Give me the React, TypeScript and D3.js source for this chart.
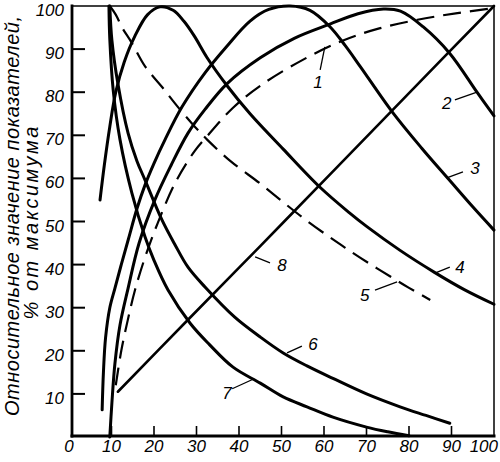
import React, { useEffect, useRef } from "react";
import * as d3 from "d3";

type Pt = [number, number];

// curves (x, % of max)
const curve1: Pt[] = [
  [11, 12], [12.3, 20], [13.8, 27], [15.5, 34], [18, 42], [20.9, 49.7], [25, 59],
  [29.6, 66.4], [32.5, 69.8], [38.6, 76.4], [45, 81.5], [55, 87.5], [64.5, 92],
  [73, 94.8], [82, 96.8], [91, 98.3], [100, 99.5],
];
const curve2: Pt[] = [
  [9.6, 0], [10.1, 8], [10.8, 17], [12, 26], [13.9, 34.5], [16.5, 45], [20.2, 55],
  [24, 63], [28, 70.5], [32, 76], [37.2, 82], [45, 88], [53, 92.5], [61.4, 95.8],
  [68, 98.2], [74, 99.3], [78, 98.8], [83.3, 95.2], [89.6, 89], [96, 80], [100, 74.5],
];
const curve3: Pt[] = [
  [7.8, 6.3], [8.1, 15], [8.6, 23], [9.6, 30], [10.8, 34.5], [12.3, 40], [14, 46],
  [16, 53], [17.9, 58.5], [20, 63.5], [22.6, 69], [26.6, 76.6], [32, 84.5], [37, 90.5],
  [42.6, 96.5], [47, 99.2], [52, 100], [56.7, 99], [61.4, 95.2], [65, 90.8], [68.5, 86],
  [76, 75.5], [83, 67], [89.6, 59.5], [95, 53.4], [100, 48],
];
const curve4: Pt[] = [
  [7.3, 55], [8.3, 63], [9.6, 72], [11, 80], [13, 87], [15.5, 93], [18.5, 98],
  [21.4, 99.8], [24.5, 99], [27, 96.5], [29.5, 93], [32.5, 88], [37.2, 81.5],
  [42.6, 75], [50.4, 66.8], [59, 58], [66, 52], [70.1, 48.8], [77.9, 43.3],
  [86, 38.2], [93, 34.2], [100, 30.8],
];
const curve5: Pt[] = [
  [9.6, 100], [11, 98], [12.5, 95], [14.8, 91.4], [17.9, 86], [21.9, 81.2],
  [25.6, 76.6], [29.6, 72], [32.5, 69], [38, 64], [45, 58.8], [50, 54.8], [55, 50.9],
  [60.7, 46.8], [65, 43.9], [70.1, 40.6], [76, 37], [80, 34.6], [85, 31.8],
];
const curve6: Pt[] = [
  [9.6, 100], [10.1, 92], [11.5, 82], [13.9, 70.5], [16, 64], [17.9, 59.6],
  [21.9, 50.3], [25, 44.5], [28, 39.4], [32, 34.8], [39, 27.8], [45, 23.2],
  [50.4, 19.5], [56, 16.5], [62.1, 13.6], [70, 10], [77.9, 7], [84, 5], [89.6, 3.2],
];
const curve7: Pt[] = [
  [9.4, 100], [9.6, 92.3], [10.4, 80.5], [12, 69], [14.8, 56.6], [17.9, 46.4],
  [20, 41], [23.3, 34.1], [28.5, 26.4], [33, 21.5], [38.6, 16.2], [45, 12.5],
  [50.4, 9.3], [56, 7], [62.1, 4.6], [70, 2.3], [75, 1.2], [80, 0.3],
];
const curve8: Pt[] = [
  [11.5, 10.5], [28, 27.2], [45, 44.3], [62, 61.5], [80, 79.8], [100, 100],
];

const xTicks = [0, 10, 20, 30, 40, 50, 60, 70, 80, 90, 100];
const yTicks = [10, 20, 30, 40, 50, 60, 70, 80, 90, 100];
const yTitle = ["Относительное значение показателей,", "% от максимума"];

// curve numbers: text position and leader line (data coords)
const curveLabels: { text: string; at: Pt; from: Pt; to: Pt }[] = [
  { text: "1", at: [58.6, 82.4], from: [59.1, 85.2], to: [60.2, 90.5] },
  { text: "2", at: [88.9, 77.5], from: [90.8, 78.2], to: [96, 80] },
  { text: "3", at: [95.5, 62.4], from: [92.7, 61.5], to: [88.9, 60.1] },
  { text: "4", at: [92, 39.4], from: [89.6, 39.4], to: [86.1, 38] },
  { text: "5", at: [69.6, 32.9], from: [72, 34.1], to: [77.2, 36] },
  { text: "6", at: [57.4, 21.6], from: [54.8, 21.1], to: [51.3, 19.5] },
  { text: "7", at: [37.2, 10.2], from: [38.4, 11.2], to: [43.3, 13.4] },
  { text: "8", at: [50.1, 39.9], from: [47.3, 40.4], to: [43.8, 41.8] },
];

export default function App() {
  const ref = useRef<HTMLDivElement | null>(null);

  useEffect(() => {
    if (!ref.current) return;
    d3.select(ref.current).selectAll("svg").remove();

    const width = 500;
    const height = 462;
    const box = { left: 72, right: 494, top: 6, bottom: 436 };
    const font = "'Liberation Sans', Arial, sans-serif";

    const x = d3.scaleLinear().domain([0, 100]).range([69, 494]);
    const y = d3.scaleLinear().domain([0, 100]).range([437, 6]);

    const svg = d3
      .select(ref.current)
      .append("svg")
      .attr("width", width)
      .attr("height", height)
      .attr("style", "position:absolute;left:0;top:0;background:#fff");

    // frame
    const frame = svg.append("g").attr("stroke", "#000").attr("stroke-linecap", "square");
    frame.append("line").attr("x1", box.left).attr("x2", box.right).attr("y1", box.top).attr("y2", box.top).attr("stroke-width", 1.5);
    frame.append("line").attr("x1", box.right).attr("x2", box.right).attr("y1", box.top).attr("y2", box.bottom).attr("stroke-width", 1.5);
    frame.append("line").attr("x1", box.left).attr("x2", box.left).attr("y1", box.top).attr("y2", box.bottom).attr("stroke-width", 2.8);
    frame.append("line").attr("x1", box.left).attr("x2", box.right).attr("y1", box.bottom).attr("y2", box.bottom).attr("stroke-width", 3);

    // ticks
    svg
      .append("g")
      .selectAll("line")
      .data(yTicks.filter((d) => d < 100))
      .join("line")
      .attr("x1", box.left)
      .attr("x2", box.left + 13)
      .attr("y1", (d) => y(d))
      .attr("y2", (d) => y(d))
      .attr("stroke", "#000")
      .attr("stroke-width", 2);

    svg
      .append("g")
      .selectAll("line")
      .data(xTicks.filter((d) => d > 0 && d < 100))
      .join("line")
      .attr("x1", (d) => x(d))
      .attr("x2", (d) => x(d))
      .attr("y1", box.bottom)
      .attr("y2", box.bottom - 10)
      .attr("stroke", "#000")
      .attr("stroke-width", 1.6);

    // tick labels
    const lbl = svg
      .append("g")
      .attr("font-family", font)
      .attr("font-style", "italic")
      .attr("font-size", 17)
      .attr("fill", "#000");

    lbl
      .selectAll("text.y")
      .data(yTicks)
      .join("text")
      .attr("class", "y")
      .attr("x", 64)
      .attr("y", (d) => y(d) + 10)
      .attr("text-anchor", "end")
      .text((d) => d);

    // the last label sits flush against the right edge
    lbl
      .selectAll("text.x")
      .data(xTicks)
      .join("text")
      .attr("class", "x")
      .attr("x", (d) => (d === 100 ? width - 2 : x(d)))
      .attr("y", 452)
      .attr("text-anchor", (d) => (d === 100 ? "end" : "middle"))
      .text((d) => d);

    // axis title (two rotated lines)
    const title = svg
      .append("g")
      .attr("font-family", font)
      .attr("font-style", "italic")
      .attr("font-size", 20)
      .attr("fill", "#000");
    title
      .append("text")
      .attr("transform", "translate(19,216) rotate(-90)")
      .attr("text-anchor", "middle")
      .attr("textLength", 400)
      .attr("lengthAdjust", "spacing")
      .text(yTitle[0]);
    title
      .append("text")
      .attr("transform", "translate(38,223) rotate(-90)")
      .attr("text-anchor", "middle")
      .attr("textLength", 193)
      .attr("lengthAdjust", "spacing")
      .text(yTitle[1]);

    // curves
    const line = d3
      .line<Pt>()
      .x((d) => x(d[0]))
      .y((d) => y(d[1]))
      .curve(d3.curveCatmullRom.alpha(0.5));

    const series = [
      { data: curve1, dashed: true, w: 2.2 },
      { data: curve2, dashed: false, w: 3 },
      { data: curve3, dashed: false, w: 3 },
      { data: curve4, dashed: false, w: 3 },
      { data: curve5, dashed: true, w: 2.2 },
      { data: curve6, dashed: false, w: 3 },
      { data: curve7, dashed: false, w: 3 },
      { data: curve8, dashed: false, w: 2.6 },
    ];

    svg
      .append("g")
      .attr("fill", "none")
      .attr("stroke", "#000")
      .selectAll("path")
      .data(series)
      .join("path")
      .attr("d", (s) => line(s.data))
      .attr("stroke-width", (s) => s.w)
      .attr("stroke-dasharray", (s) => (s.dashed ? "18 9" : null))
      .attr("stroke-linecap", (s) => (s.dashed ? "butt" : "round"));

    // curve numbers
    const ann = svg.append("g");
    ann
      .selectAll("line")
      .data(curveLabels)
      .join("line")
      .attr("x1", (d) => x(d.from[0]))
      .attr("y1", (d) => y(d.from[1]))
      .attr("x2", (d) => x(d.to[0]))
      .attr("y2", (d) => y(d.to[1]))
      .attr("stroke", "#000")
      .attr("stroke-width", 1.3);
    ann
      .selectAll("text")
      .data(curveLabels)
      .join("text")
      .attr("x", (d) => x(d.at[0]))
      .attr("y", (d) => y(d.at[1]) + 6)
      .attr("text-anchor", "middle")
      .attr("font-family", font)
      .attr("font-style", "italic")
      .attr("font-size", 17)
      .text((d) => d.text);
  });

  return <div ref={ref}></div>;
}
